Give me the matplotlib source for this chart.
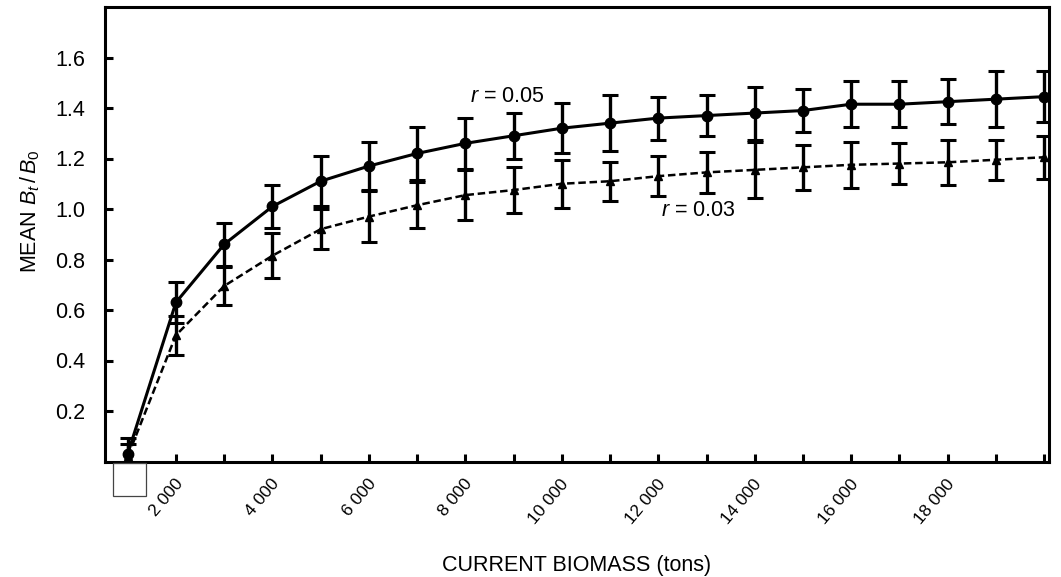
import numpy as np
import matplotlib
matplotlib.use("Agg")
import matplotlib.pyplot as plt
from matplotlib.patches import Rectangle

plt.rcParams['font.family'] = ['Liberation Sans', 'DejaVu Sans']
plt.rcParams['mathtext.fontset'] = 'custom'
plt.rcParams['mathtext.rm'] = 'Liberation Sans'
plt.rcParams['mathtext.it'] = 'Liberation Sans:italic'

# biomass levels (tons)
biomass = [1000, 2000, 3000, 4000, 5000, 6000, 7000, 8000, 9000, 10000,
           11000, 12000, 13000, 14000, 15000, 16000, 17000, 18000, 19000, 20000]

# r = 0.05
mean_05 = [0.03, 0.63, 0.86, 1.01, 1.11, 1.17, 1.22, 1.26, 1.29, 1.32,
           1.34, 1.36, 1.37, 1.38, 1.39, 1.415, 1.415, 1.425, 1.435, 1.445]
err_05 = [0.065, 0.08, 0.085, 0.085, 0.10, 0.095, 0.105, 0.10, 0.09, 0.10,
          0.11, 0.085, 0.08, 0.105, 0.085, 0.09, 0.09, 0.09, 0.11, 0.10]

# r = 0.03
mean_03 = [0.02, 0.50, 0.695, 0.815, 0.92, 0.97, 1.015, 1.055, 1.075, 1.10,
           1.11, 1.13, 1.145, 1.155, 1.165, 1.175, 1.18, 1.185, 1.195, 1.205]
err_03 = [0.05, 0.077, 0.075, 0.09, 0.08, 0.10, 0.09, 0.10, 0.09, 0.095,
          0.078, 0.08, 0.08, 0.11, 0.09, 0.09, 0.08, 0.09, 0.08, 0.085]

xtick_pos = [2000, 4000, 6000, 8000, 10000, 12000, 14000, 16000, 18000]
xtick_labels = ["2 000", "4 000", "6 000", "8 000", "10 000",
                "12 000", "14 000", "16 000", "18 000"]
ytick_pos = [0.2, 0.4, 0.6, 0.8, 1.0, 1.2, 1.4, 1.6]

fig = plt.figure(figsize=(10.61, 5.77), dpi=100)
ax = fig.add_axes([105/1061, 1-461.5/577, 944/1061, 454.5/577])

ax.errorbar(biomass, mean_05, yerr=err_05, color='black', lw=2.2,
            marker='o', ms=7.5, elinewidth=2.4, capsize=5.5, capthick=2.2,
            zorder=3)
ax.errorbar(biomass, mean_03, yerr=err_03, color='black', lw=1.8,
            ls=(0, (3, 1.5)), marker='^', ms=5.5, elinewidth=2.4,
            capsize=5.5, capthick=2.2, zorder=3)

ax.set_xlim(530, 20100)
ax.set_ylim(0, 1.80)

ax.set_xticks(range(1000, 20001, 1000))
ax.set_xticklabels([])
for x, lab in zip(xtick_pos, xtick_labels):
    ax.annotate(lab, xy=(x, 0), xycoords=('data', 'axes fraction'),
                xytext=(3, -14), textcoords='offset points',
                rotation=50, ha='right', va='center',
                rotation_mode='anchor', fontsize=12.5)

ax.set_yticks(ytick_pos)
ax.set_yticklabels([f"{v:.1f}" for v in ytick_pos], fontsize=15.5)
ax.tick_params(axis='both', direction='in', length=6, width=2.2, pad=14)
ax.tick_params(axis='x', pad=4)

for side in ['left', 'bottom', 'top', 'right']:
    ax.spines[side].set_linewidth(2.2)

ax.text(8100, 1.444, "$r$ = 0.05", fontsize=15.5, va='center', ha='left')
ax.text(12060, 0.996, "$r$ = 0.03", fontsize=15.5, va='center', ha='left')

fig.text(577/1061, 1-565/577, "CURRENT BIOMASS (tons)", ha='center',
         va='center', fontsize=15.5)
fig.text(30/1061, 1-211/577, "MEAN $B_t\\,/\\,B_0$", rotation=90,
         ha='center', va='center', fontsize=15.5)

# empty box below the first point
fig.patches.append(Rectangle((113/1061, 1-496/577), 33/1061, 33/577,
                             transform=fig.transFigure, fill=False,
                             edgecolor='#444444', lw=0.9))

fig.savefig("out.png", dpi=100)
